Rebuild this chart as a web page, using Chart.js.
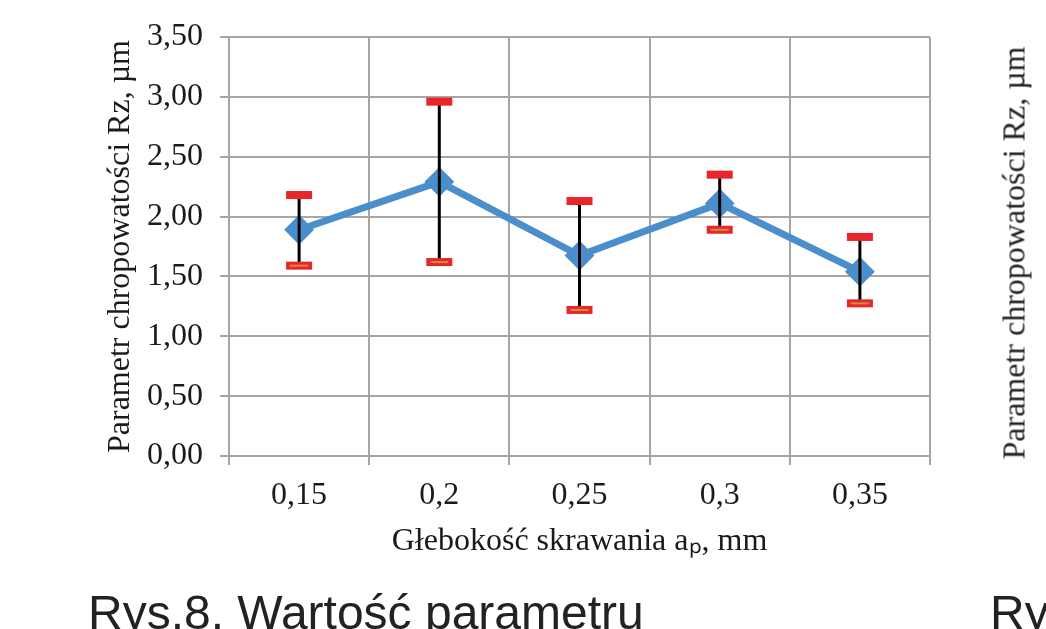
<!DOCTYPE html>
<html>
<head>
<meta charset="utf-8">
<script src="https://cdn.jsdelivr.net/npm/chart.js@4/dist/chart.umd.min.js"></script>
<style>
  html, body { margin: 0; padding: 0; background: #fff; overflow: hidden; }
  #wrap { position: relative; width: 1046px; height: 629px; }
  #chart1 { position: absolute; left: 0; top: 0; }
  .cap { position: absolute; font-family: "Liberation Sans", Arial, sans-serif; font-size: 48px; color: #222; white-space: nowrap; line-height: 1; }
  #side { position: absolute; left: 1014px; top: 253px; transform: translate(-50%, -50%) rotate(-90deg);
          font-family: "Liberation Serif", "Times New Roman", serif; font-size: 32px; color: #222; white-space: nowrap; }
</style>
</head>
<body>
<div id="wrap">
  <canvas id="chart1" width="1046" height="629"></canvas>
  <div id="side">Parametr chropowatości Rz, µm</div>
  <div class="cap" style="left:88px; top:589px;">Rys.8. Wartość parametru</div>
  <div class="cap" style="left:990px; top:589px;">Ry</div>
</div>
<script>
const depths = ['0,15', '0,2', '0,25', '0,3', '0,35'];
const rzMean = [1.89, 2.29, 1.675, 2.11, 1.54];
const rzUpper = [2.18, 2.96, 2.13, 2.35, 1.83];
const rzLower = [1.59, 1.62, 1.22, 1.89, 1.275];

const errorBars = {
  id: 'errorBars',
  afterDatasetsDraw(chart) {
    const ctx = chart.ctx;
    const x = chart.scales.x, y = chart.scales.y;
    ctx.save();
    depths.forEach((d, i) => {
      const px = x.getPixelForValue(i);
      const top = y.getPixelForValue(rzUpper[i]);
      const bot = y.getPixelForValue(rzLower[i]);
      ctx.strokeStyle = '#000';
      ctx.lineWidth = 3;
      ctx.beginPath();
      ctx.moveTo(px, top);
      ctx.lineTo(px, bot);
      ctx.stroke();
      // caps
      ctx.fillStyle = '#e8252b';
      ctx.fillRect(px - 13, top - 4, 26, 8);
      ctx.fillRect(px - 13, bot - 4, 26, 8);
      ctx.fillStyle = '#c98f3c';
      ctx.fillRect(px - 9, bot - 1, 18, 2);
    });
    ctx.restore();
  }
};

const serif = '"Liberation Serif", "Times New Roman", serif';

new Chart(document.getElementById('chart1'), {
  type: 'line',
  data: {
    labels: depths,
    datasets: [{
      data: rzMean,
      borderColor: '#4a8fcb',
      backgroundColor: '#4a8fcb',
      borderWidth: 7,
      pointStyle: 'rectRot',
      pointRadius: 10,
      pointHoverRadius: 10,
      tension: 0
    }]
  },
  options: {
    responsive: false,
    animation: false,
    events: [],
    layout: { padding: { left: 95, top: 37, right: 116, bottom: 66 } },
    plugins: { legend: { display: false }, tooltip: { enabled: false } },
    scales: {
      x: {
        offset: true,
        grid: { offset: true, color: '#a6a6a6', lineWidth: 2, tickLength: 9 },
        border: { color: '#a6a6a6', width: 2 },
        ticks: { color: '#1a1a1a', font: { family: serif, size: 32 }, padding: 11, maxRotation: 0 },
        title: {
          display: true,
          text: 'Głebokość skrawania aₚ, mm',
          color: '#1a1a1a',
          font: { family: serif, size: 32 },
          padding: { top: 0, bottom: 2 }
        },
        afterFit: s => { s.height = 107; }
      },
      y: {
        min: 0,
        max: 3.5,
        ticks: {
          stepSize: 0.5,
          color: '#1a1a1a',
          font: { family: serif, size: 32 },
          padding: 17,
          callback: v => v.toFixed(2).replace('.', ',')
        },
        grid: { color: '#a6a6a6', lineWidth: 2, tickLength: 9 },
        border: { color: '#a6a6a6', width: 2 },
        title: {
          display: true,
          text: 'Parametr chropowatości Rz, µm',
          color: '#1a1a1a',
          font: { family: serif, size: 32 },
          padding: { top: 6, bottom: 0 }
        },
        afterFit: s => { s.width = 134; }
      }
    }
  },
  plugins: [errorBars]
});
</script>
</body>
</html>
